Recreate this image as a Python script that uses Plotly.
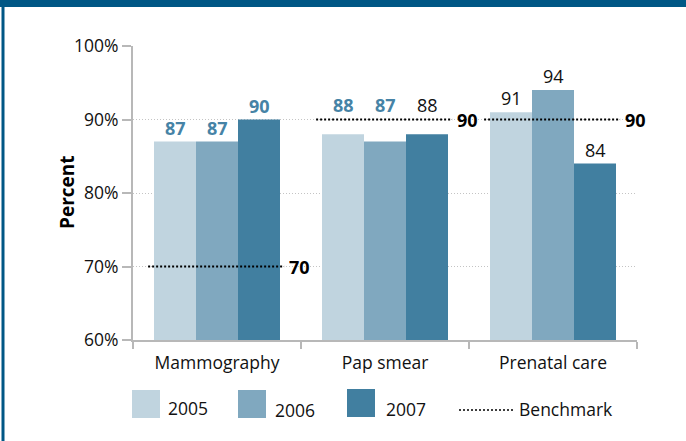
import plotly.graph_objects as go

# chart data
categories = ["Mammography", "Pap smear", "Prenatal care"]
years = ["2005", "2006", "2007"]
values_2005 = [87, 88, 91]
values_2006 = [87, 87, 94]
values_2007 = [90, 88, 84]
benchmarks = [70, 90, 90]
y_ticks = [60, 70, 80, 90, 100]
# labels drawn bold blue in the source (True) or plain black (False)
bold_2005 = [True, True, False]
bold_2006 = [True, True, False]
bold_2007 = [True, False, False]

colors = ["#c0d4df", "#80a8bf", "#417fa0"]
label_blue = "#4683a6"
gray = "#b8b8b8"
font = "Open Sans"

W, H = 686, 441
L, R, T, B = 133, 49, 46, 101
pw, ph = W - L - R, H - T - B
bargap = 0.25
bar_w = (1 - bargap) / len(years)


def px_x(x):
    return (x - L) / pw


def px_y(y):
    return (H - B - y) / ph


fig = go.Figure()

xs = list(range(len(categories)))
series = [values_2005, values_2006, values_2007]
bolds = [bold_2005, bold_2006, bold_2007]
for k, (year, vals, bold, col) in enumerate(zip(years, series, bolds, colors)):
    fig.add_trace(go.Bar(
        x=xs, y=vals, name=year, marker_color=col, marker_line_width=0,
        showlegend=False, hoverinfo="skip",
    ))
    # value labels; lifted above the benchmark line where they would touch it
    for i, v in enumerate(vals):
        b = benchmarks[i]
        y_lab = b if 0 <= b - v <= 3 else v
        fig.add_annotation(
            x=i + (k - 1) * bar_w, y=y_lab,
            text=f"<b>{v}</b>" if bold[i] else str(v),
            showarrow=False, yanchor="bottom", yshift=0 if y_lab == v else 1,
            font=dict(family=font, size=18,
                      color=label_blue if bold[i] else "#111111"))

# benchmark dotted lines
for i, b in enumerate(benchmarks):
    fig.add_trace(go.Scatter(
        x=[i - 0.41, i + 0.40], y=[b, b], mode="lines",
        line=dict(color="black", width=2, dash="2px,2px"),
        showlegend=False, hoverinfo="skip", cliponaxis=False,
    ))
    fig.add_annotation(x=i + 0.40, y=b, text=f"<b>{b}</b>", showarrow=False,
                       xanchor="left", xshift=3, yanchor="middle",
                       font=dict(family=font, size=18, color="black"))

# y axis title
fig.add_annotation(x=px_x(51.5), y=px_y(192.5), xref="paper", yref="paper",
                   text="<b>Percent</b>", textangle=-90, showarrow=False,
                   font=dict(family=font, size=19, color="black"))

# frame decorations
fig.add_shape(type="rect", xref="paper", yref="paper", x0=px_x(0), x1=px_x(W),
              y0=px_y(7), y1=px_y(0), fillcolor="#005785", line_width=0)
fig.add_shape(type="line", xref="paper", yref="paper", x0=px_x(3), x1=px_x(3),
              y0=px_y(6), y1=px_y(H), line=dict(color="#005785", width=3))

# legend drawn by hand to get the large swatches
sw = [(132, 390), (238, 390), (347, 389)]
tx = [(166, 408), (273, 410), (384, 409)]
for (sx, sy), (lx, ly), col, year in zip(sw, tx, colors, years):
    fig.add_shape(type="rect", xref="paper", yref="paper",
                  x0=px_x(sx), x1=px_x(sx + 28), y0=px_y(sy + 28), y1=px_y(sy),
                  fillcolor=col, line_width=0)
    fig.add_annotation(x=px_x(lx), y=px_y(ly), xref="paper", yref="paper",
                       text=year, showarrow=False, xanchor="left", yanchor="middle",
                       font=dict(family=font, size=17.5, color="#111111"))
fig.add_shape(type="line", xref="paper", yref="paper", x0=px_x(459), x1=px_x(514),
              y0=px_y(410), y1=px_y(410),
              line=dict(color="black", width=1.5, dash="2px,2px"))
fig.add_annotation(x=px_x(517), y=px_y(409), xref="paper", yref="paper",
                   text="Benchmark", showarrow=False, xanchor="left", yanchor="middle",
                   font=dict(family=font, size=17.5, color="#111111"))

fig.update_layout(
    width=W, height=H,
    margin=dict(l=L, r=R, t=T, b=B, autoexpand=False),
    plot_bgcolor="white", paper_bgcolor="white",
    barmode="group", bargap=bargap, bargroupgap=0,
    font=dict(family=font, size=17.5, color="#111111"),
    xaxis=dict(
        range=[-0.5, 2.5], tickmode="array", tickvals=xs, ticktext=categories,
        ticks="outside", ticklen=6, tickcolor="rgba(0,0,0,0)",
        showline=True, linecolor=gray, linewidth=2, showgrid=False, zeroline=False,
        minor=dict(tickmode="array", tickvals=[-0.5, 0.5, 1.5, 2.5], ticks="outside",
                   ticklen=7, tickwidth=2, tickcolor=gray, showgrid=False),
        fixedrange=True,
    ),
    yaxis=dict(
        range=[60, 100], tickmode="array", tickvals=y_ticks,
        ticktext=[f"{v}%" for v in y_ticks],
        ticks="outside", ticklen=9, tickwidth=1.5, tickcolor=gray,
        showline=True, linecolor=gray, linewidth=2, zeroline=False,
        showgrid=True, gridcolor="#c4c4c4", gridwidth=1, griddash="1px,2px",
        fixedrange=True,
    ),
)

fig.write_html("out.html", config={"displayModeBar": False},
               post_script="document.body.style.margin='0';")
